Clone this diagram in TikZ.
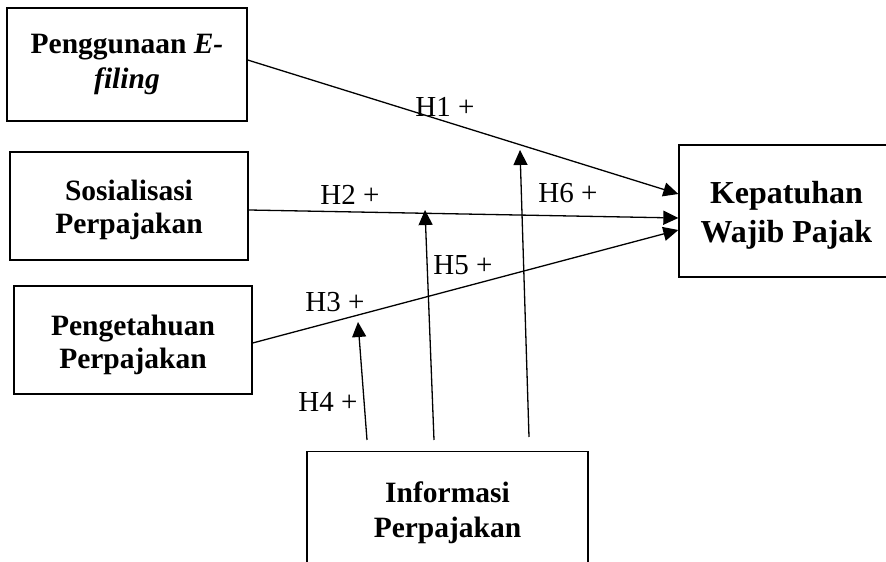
\documentclass[tikz,border=0pt]{standalone}
\usepackage{fontspec}
\setmainfont{Liberation Serif}
\usetikzlibrary{arrows.meta}
\begin{document}
\begin{tikzpicture}[x=1pt,y=1pt,
  box/.style={draw, line width=1.3pt, inner sep=0pt},
  btext/.style={align=center, inner sep=0pt, font=\fontsize{29.5}{33}\selectfont\bfseries},
  arr/.style={line width=1.3pt, -{Triangle[length=15pt,width=14pt]}},
  lab/.style={font=\fontsize{29}{34}\selectfont, inner sep=0pt}]
\useasboundingbox (0,0) rectangle (886,562);
\begin{scope}
\clip (0,0) rectangle (886,562);
\node[box, btext, minimum width=240pt, minimum height=113pt, font=\fontsize{29.5}{35}\selectfont\bfseries] (b1) at (127,497.5) {Penggunaan \textit{E-}\\\textit{filing}};
\node[box, minimum width=238pt, minimum height=108pt] (b2) at (129,356) {};
\node[btext] (b2t) at (129,352) {Sosialisasi\\Perpajakan};
\node[box, minimum width=238pt, minimum height=108pt] (b3) at (133,222) {};
\node[btext] (b3t) at (133,217.5) {Pengetahuan\\Perpajakan};
\node[box, minimum width=215pt, minimum height=132pt] (k) at (786.5,351) {};
\node[btext, font=\fontsize{32}{39}\selectfont\bfseries] (kt) at (786.5,347) {Kepatuhan\\Wajib Pajak};
\node[box, minimum width=281pt, minimum height=160pt, anchor=north] (info) at (447.5,111) {};
\node[btext, font=\fontsize{29.5}{35}\selectfont\bfseries] (infot) at (447.5,49.5) {Informasi\\Perpajakan};

\coordinate (s4) at (367,122);
\coordinate (t4) at (358,240);
\coordinate (s5) at (434,122);
\coordinate (t5) at (425,352);
\coordinate (s6) at (529,125);
\coordinate (t6) at (520,412);

\draw[arr] ([yshift=4.5pt]b1.east) -- ([yshift=17pt]k.west);
\draw[arr] ([yshift=-4pt]b2.east) -- ([yshift=-7pt]k.west);
\draw[arr] ([yshift=-3pt]b3.east) -- ([yshift=-19pt]k.west);
\draw[arr] (s4) -- (t4);
\draw[arr] (s5) -- (t5);
\draw[arr] (s6) -- (t6);

\node[lab] (h1) at (445,455) {H1 +};
\node[lab] (h2) at (350,367) {H2 +};
\node[lab] (h3) at (335,260) {H3 +};
\node[lab] (h4) at (328,160) {H4 +};
\node[lab] (h5) at (463,297) {H5 +};
\node[lab] (h6) at (568,369) {H6 +};
\end{scope}
\end{tikzpicture}
\end{document}
